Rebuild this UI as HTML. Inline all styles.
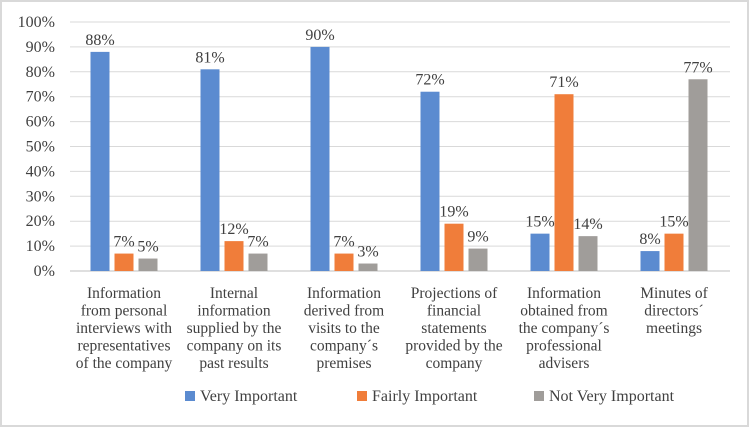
<!DOCTYPE html>
<html><head><style>
body{margin:0;background:#fff}
svg{display:block;font-family:"Liberation Serif",serif}
</style></head><body>
<svg width="749" height="427">
<rect x="1" y="1" width="747" height="425" fill="#fff" stroke="#d9d9d9" stroke-width="2"/>
<g id="grid"></g><g id="bars"></g><g id="labels"></g>
<g id="legend" font-size="16" fill="#404040">
<rect x="185" y="391" width="10" height="10" fill="#5b8bd0"/>
<text x="200" y="401">Very Important</text>
<rect x="357" y="391" width="10" height="10" fill="#f07d3a"/>
<text x="372" y="401">Fairly Important</text>
<rect x="534" y="391" width="10" height="10" fill="#a09d9a"/>
<text x="549" y="401">Not Very Important</text>
</g>
</svg>
<script>
const categories=[["Information","from personal","interviews with","representatives","of the company"],["Internal","information","supplied by the","company on its","past results"],["Information","derived from","visits to the","company´s","premises"],["Projections of","financial","statements","provided by the","company"],["Information","obtained from","the company´s","professional","advisers"],["Minutes of","directors´","meetings"]];
const veryImportant=[88,81,90,72,15,8];
const fairlyImportant=[7,12,7,19,71,15];
const notVeryImportant=[5,7,3,9,14,77];
const yTicks=[0,10,20,30,40,50,60,70,80,90,100];
const series=[veryImportant,fairlyImportant,notVeryImportant];
const colors=["#5b8bd0","#f07d3a","#a09d9a"];
const names=["very","fairly","not-very"];
const NS="http://www.w3.org/2000/svg";
const x0=70,x1=730,yBase=271,yTop=22;
const y=v=>yBase-(v/100)*(yBase-yTop);
const gw=(x1-x0)/categories.length;
const gx=i=>x0+gw*(i+0.5)-1;
function mk(t,a,p){const e=document.createElementNS(NS,t);for(const k in a)e.setAttribute(k,a[k]);p.appendChild(e);return e;}
const grid=document.getElementById('grid'),bars=document.getElementById('bars'),labels=document.getElementById('labels');
yTicks.forEach(t=>{
 const l=mk('line',{x1:x0,x2:x1,y1:y(t),y2:y(t),stroke:t===0?'#bfbfbf':'#d9d9d9','stroke-width':1},grid);
 
 
 const tx=mk('text',{x:55,y:y(t)+5,'text-anchor':'end','font-size':16,fill:'#404040'},grid);
 tx.textContent=t+'%';
 
 
});
categories.forEach((c,i)=>{
 series.forEach((s,j)=>{
  const cx=gx(i)+(j-1)*24;
  const r=mk('rect',{x:cx-9.5,y:y(s[i]),width:19,height:yBase-y(s[i]),fill:colors[j]},bars);
  
  
  const t=mk('text',{x:cx,y:y(s[i])-7,'text-anchor':'middle','font-size':16,fill:'#404040'},labels);
  t.textContent=s[i]+'%';
  
  
 });
 c.forEach((line,k)=>{
  const t=mk('text',{x:gx(i),y:298+k*17.5,'text-anchor':'middle','font-size':15.5,fill:'#404040'},labels);
  t.textContent=line;
  
  
 });
});
</script>
</body></html>
